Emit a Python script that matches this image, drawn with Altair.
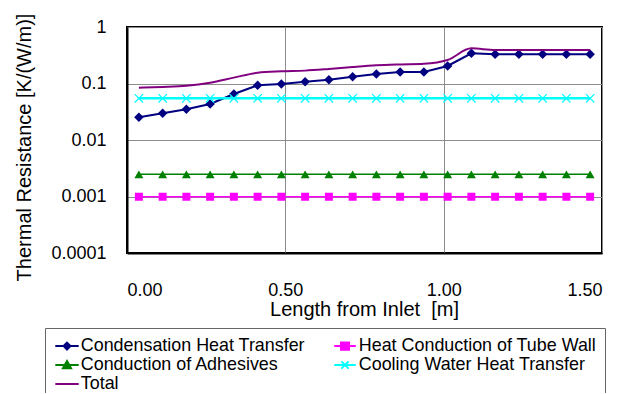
import altair as alt
import pandas as pd

# ---- data ----
length_m = [0.0375, 0.1125, 0.1875, 0.2625, 0.3375, 0.4125, 0.4875, 0.5625, 0.6375, 0.7125,
            0.7875, 0.8625, 0.9375, 1.0125, 1.0875, 1.1625, 1.2375, 1.3125, 1.3875, 1.4625]
condensation = [0.0252, 0.0297, 0.0349, 0.0434, 0.0652, 0.093, 0.098, 0.1077, 0.117, 0.132,
                0.147, 0.160, 0.160, 0.204, 0.342, 0.330, 0.330, 0.330, 0.330, 0.330]
tube_wall = [0.00099, 0.00099, 0.00099, 0.00099, 0.00099, 0.00099, 0.00099, 0.00099, 0.00099, 0.00099,
             0.00099, 0.00099, 0.00099, 0.00099, 0.00099, 0.00099, 0.00099, 0.00099, 0.00099, 0.00099]
adhesives = [0.00247, 0.00247, 0.00247, 0.00247, 0.00247, 0.00247, 0.00247, 0.00247, 0.00247, 0.00247,
             0.00247, 0.00247, 0.00247, 0.00247, 0.00247, 0.00247, 0.00247, 0.00247, 0.00247, 0.00247]
cooling_water = [0.0547, 0.0547, 0.0547, 0.0547, 0.0547, 0.0547, 0.0547, 0.0547, 0.0547, 0.0547,
                 0.0547, 0.0547, 0.0547, 0.0547, 0.0547, 0.0547, 0.0547, 0.0547, 0.0547, 0.0547]
total = [0.0843, 0.087, 0.0914, 0.1035, 0.127, 0.155, 0.164, 0.169, 0.181, 0.196,
         0.210, 0.218, 0.224, 0.261, 0.419, 0.392, 0.392, 0.392, 0.392, 0.392]

series_names = ["Condensation Heat Transfer", "Heat Conduction of Tube Wall",
                "Conduction of Adhesives", "Cooling Water Heat Transfer", "Total"]
series_values = [condensation, tube_wall, adhesives, cooling_water, total]
colors = ["#000080", "#FF00FF", "#008000", "#00FFFF", "#800080"]

# legend fills column by column: left column then right column
legend_order = [0, 2, 4, 1, 3]

x_ticks = [0.0, 0.5, 1.0, 1.5]
y_ticks = [0.0001, 0.001, 0.01, 0.1, 1]

rows = []
for name, vals in zip(series_names, series_values):
    for xv, yv in zip(length_m, vals):
        rows.append({"length": xv, "resistance": yv, "series": name})
df = pd.DataFrame(rows)

FONT = "Liberation Sans, Arial, sans-serif"

x_enc = alt.X("length:Q",
              scale=alt.Scale(domain=[0, 1.5], nice=False, zero=False),
              axis=alt.Axis(values=x_ticks, format=".2f", title="Length from Inlet\u00a0 [m]",
                            labelPadding=28, titleX=237, titleY=62,
                            titleBaseline="alphabetic", titleAlign="center"))
y_enc = alt.Y("resistance:Q",
              scale=alt.Scale(type="log", domain=[0.0001, 1], nice=False),
              axis=alt.Axis(values=y_ticks, format="~g", title="Thermal Resistance [K/(W/m)]",
                            labelPadding=21, titleX=-97, titleY=120, titleAngle=-90,
                            titleBaseline="alphabetic", titleAlign="center"))

base = alt.Chart(df)


def sel(name):
    return base.transform_filter(alt.datum.series == name)


line_cond = sel(series_names[0]).mark_line(color=colors[0], strokeWidth=2).encode(x=x_enc, y=y_enc)
pt_cond = sel(series_names[0]).mark_point(shape="diamond", filled=True, size=90, color=colors[0],
                                         opacity=1).encode(x=x_enc, y=y_enc)
line_tube = sel(series_names[1]).mark_line(color=colors[1], strokeWidth=1.5).encode(x=x_enc, y=y_enc)
pt_tube = sel(series_names[1]).mark_point(shape="square", filled=True, size=64, color=colors[1],
                                         opacity=1).encode(x=x_enc, y=y_enc)
line_adh = sel(series_names[2]).mark_line(color=colors[2], strokeWidth=1.5).encode(x=x_enc, y=y_enc)
pt_adh = sel(series_names[2]).mark_point(shape="triangle-up", filled=True, size=80, color=colors[2],
                                        opacity=1).encode(x=x_enc, y=y_enc)
line_cool = sel(series_names[3]).mark_line(color=colors[3], strokeWidth=2.5).encode(x=x_enc, y=y_enc)
pt_cool = sel(series_names[3]).mark_point(shape="M-1,-1L1,1M-1,1L1,-1", filled=False, size=70,
                                         strokeWidth=1.2, color=colors[3], opacity=1).encode(x=x_enc, y=y_enc)
line_total = sel(series_names[4]).mark_line(color=colors[4], strokeWidth=2,
                                            interpolate="monotone").encode(x=x_enc, y=y_enc)

legend_paths = [
    "M-1.3,0H1.3M0,-0.38L0.38,0L0,0.38L-0.38,0Z",
    "M-1.2,0H1.2M-0.45,-0.4H0.45V0.4H-0.45Z",
    "M-1.3,0H1.3M0,-0.45L0.45,0.35H-0.45Z",
    "M-1.2,0H1.2M-0.4,-0.4L0.4,0.4M-0.4,0.4L0.4,-0.4",
    "M-1.3,0H1.3",
]

leg_domain = [series_names[i] for i in legend_order]
leg_colors = [colors[i] for i in legend_order]
leg_paths = [legend_paths[i] for i in legend_order]

leg = alt.Legend(orient="none", legendX=-82, legendY=301, columns=2, columnPadding=25,
                 rowPadding=-1, padding=8, strokeColor="#666666", fillColor="white",
                 labelFont=FONT, labelFontSize=17.9, labelColor="black", labelLimit=500,
                 labelOffset=3.8, symbolOffset=4, symbolSize=324, symbolStrokeWidth=2,
                 symbolOpacity=1, title=None)

legend_layer = base.mark_point(filled=True, opacity=0).encode(
    x=x_enc, y=y_enc,
    fill=alt.Fill("series:N", scale=alt.Scale(domain=leg_domain, range=leg_colors), legend=leg),
    stroke=alt.Stroke("series:N", scale=alt.Scale(domain=leg_domain, range=leg_colors), legend=leg),
    shape=alt.Shape("series:N", scale=alt.Scale(domain=leg_domain, range=leg_paths), legend=leg),
)

chart = alt.layer(
    line_cond, pt_cond, line_tube, pt_tube, line_adh, pt_adh, line_cool, pt_cool, line_total,
    legend_layer,
).properties(
    width=475, height=226,
    autosize=alt.AutoSizeParams(type="none"),
    padding={"left": 119, "top": 19, "right": 20, "bottom": 140},
).configure_view(
    stroke="black", strokeWidth=2
).configure_axis(
    domainColor="black", domainWidth=2, grid=True, gridColor="#8c8c8c", gridWidth=1,
    ticks=False, labelFont=FONT, labelFontSize=18, labelColor="black",
    titleFont=FONT, titleFontSize=20, titleFontWeight="normal", titleColor="black",
)

chart.save("out.html", embed_options={"renderer": "svg", "actions": False})
